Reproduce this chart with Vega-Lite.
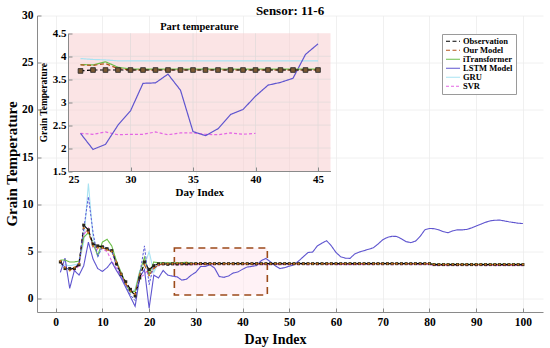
{
  "$schema": "https://vega.github.io/schema/vega-lite/v6.json",
  "width": 506,
  "height": 296.5,
  "autosize": "none",
  "padding": {"left": 37, "top": 15.5, "right": 7, "bottom": 36},
  "title": {"text": "Sensor: 11-6", "fontSize": 13, "fontWeight": "bold", "font": "Liberation Serif", "offset": -8, "anchor": "middle", "color": "#000"},
  "datasets": {
    "main": [
      {"d":1,"Observation":3.9,"Our Model":4.0,"iTransformer":4.1,"LSTM Model":2.8,"GRU":3.5,"SVR":3.8,"Extra":3.9},
      {"d":2,"Observation":3.2,"Our Model":3.3,"iTransformer":4.1,"LSTM Model":4.3,"GRU":3.6,"SVR":3.4,"Extra":3.3},
      {"d":3,"Observation":3.2,"Our Model":3.0,"iTransformer":3.9,"LSTM Model":1.1,"GRU":3.5,"SVR":3.3,"Extra":3.1},
      {"d":4,"Observation":3.2,"Our Model":3.3,"iTransformer":3.9,"LSTM Model":3.0,"GRU":3.6,"SVR":3.0,"Extra":3.3},
      {"d":5,"Observation":3.6,"Our Model":3.7,"iTransformer":4.0,"LSTM Model":2.5,"GRU":3.7,"SVR":3.5,"Extra":3.8},
      {"d":6,"Observation":7.8,"Our Model":7.5,"iTransformer":6.5,"LSTM Model":3.5,"GRU":6.0,"SVR":6.8,"Extra":7.4},
      {"d":7,"Observation":7.3,"Our Model":7.0,"iTransformer":7.0,"LSTM Model":6.0,"GRU":12.2,"SVR":7.5,"Extra":10.8},
      {"d":8,"Observation":5.8,"Our Model":5.6,"iTransformer":5.8,"LSTM Model":4.2,"GRU":6.5,"SVR":5.4,"Extra":7.0},
      {"d":9,"Observation":5.6,"Our Model":5.4,"iTransformer":4.6,"LSTM Model":3.2,"GRU":4.5,"SVR":5.2,"Extra":4.4},
      {"d":10,"Observation":5.5,"Our Model":5.4,"iTransformer":6.0,"LSTM Model":2.9,"GRU":5.5,"SVR":5.3,"Extra":5.6},
      {"d":11,"Observation":5.3,"Our Model":5.2,"iTransformer":6.3,"LSTM Model":3.3,"GRU":5.3,"SVR":5.0,"Extra":5.4},
      {"d":12,"Observation":5.1,"Our Model":5.0,"iTransformer":5.6,"LSTM Model":3.9,"GRU":5.2,"SVR":4.0,"Extra":5.0},
      {"d":13,"Observation":3.7,"Our Model":3.9,"iTransformer":4.0,"LSTM Model":3.0,"GRU":4.0,"SVR":3.2,"Extra":3.5},
      {"d":14,"Observation":2.6,"Our Model":2.6,"iTransformer":2.8,"LSTM Model":2.2,"GRU":2.5,"SVR":2.3,"Extra":2.4},
      {"d":15,"Observation":1.8,"Our Model":1.6,"iTransformer":1.6,"LSTM Model":1.2,"GRU":1.6,"SVR":1.5,"Extra":1.4},
      {"d":16,"Observation":1.0,"Our Model":0.8,"iTransformer":0.7,"LSTM Model":0.2,"GRU":0.6,"SVR":0.8,"Extra":0.4},
      {"d":17,"Observation":0.3,"Our Model":0.5,"iTransformer":0.8,"LSTM Model":-0.8,"GRU":1.0,"SVR":0.8,"Extra":-0.2},
      {"d":18,"Observation":2.2,"Our Model":2.6,"iTransformer":2.8,"LSTM Model":2.3,"GRU":3.0,"SVR":2.2,"Extra":2.6},
      {"d":19,"Observation":3.9,"Our Model":3.6,"iTransformer":4.4,"LSTM Model":3.1,"GRU":3.5,"SVR":2.6,"Extra":5.6},
      {"d":20,"Observation":3.1,"Our Model":2.5,"iTransformer":2.6,"LSTM Model":-1.0,"GRU":5.0,"SVR":3.2,"Extra":1.5},
      {"d":21,"Observation":3.5,"Our Model":3.2,"iTransformer":3.9,"LSTM Model":2.5,"GRU":2.8,"SVR":3.3,"Extra":3.6},
      {"d":22,"Observation":3.7,"Our Model":3.6,"iTransformer":3.8,"LSTM Model":2.2,"GRU":3.8,"SVR":3.5,"Extra":3.7},
      {"d":23,"Observation":3.7,"Our Model":3.7,"iTransformer":3.8,"LSTM Model":3.0,"GRU":3.8,"SVR":3.6},
      {"d":24,"Observation":3.65,"Our Model":3.7,"iTransformer":3.8,"LSTM Model":2.5,"GRU":3.8,"SVR":3.65},
      {"d":25,"Observation":3.7,"Our Model":3.72,"iTransformer":3.8,"LSTM Model":2.4,"GRU":3.8,"SVR":3.6},
      {"d":26,"Observation":3.68,"Our Model":3.75,"iTransformer":3.82,"LSTM Model":2.32,"GRU":3.8,"SVR":3.62},
      {"d":27,"Observation":3.7,"Our Model":3.74,"iTransformer":3.81,"LSTM Model":1.97,"GRU":3.78,"SVR":3.66},
      {"d":28,"Observation":3.7,"Our Model":3.76,"iTransformer":3.88,"LSTM Model":2.08,"GRU":3.78,"SVR":3.58},
      {"d":29,"Observation":3.7,"Our Model":3.72,"iTransformer":3.76,"LSTM Model":2.5,"GRU":3.76,"SVR":3.64},
      {"d":30,"Observation":3.72,"Our Model":3.72,"iTransformer":3.74,"LSTM Model":2.81,"GRU":3.76,"SVR":3.6},
      {"d":31,"Observation":3.72,"Our Model":3.72,"iTransformer":3.74,"LSTM Model":3.41,"GRU":3.76,"SVR":3.66},
      {"d":32,"Observation":3.72,"Our Model":3.72,"iTransformer":3.74,"LSTM Model":3.42,"GRU":3.76,"SVR":3.6},
      {"d":33,"Observation":3.72,"Our Model":3.72,"iTransformer":3.74,"LSTM Model":3.61,"GRU":3.76,"SVR":3.66},
      {"d":34,"Observation":3.72,"Our Model":3.72,"iTransformer":3.74,"LSTM Model":3.26,"GRU":3.76,"SVR":3.6},
      {"d":35,"Observation":3.72,"Our Model":3.72,"iTransformer":3.74,"LSTM Model":2.36,"GRU":3.76,"SVR":3.66},
      {"d":36,"Observation":3.72,"Our Model":3.72,"iTransformer":3.74,"LSTM Model":2.27,"GRU":3.76,"SVR":3.6},
      {"d":37,"Observation":3.72,"Our Model":3.72,"iTransformer":3.74,"LSTM Model":2.42,"GRU":3.76,"SVR":3.66},
      {"d":38,"Observation":3.72,"Our Model":3.72,"iTransformer":3.74,"LSTM Model":2.73,"GRU":3.76,"SVR":3.6},
      {"d":39,"Observation":3.72,"Our Model":3.72,"iTransformer":3.74,"LSTM Model":2.84,"GRU":3.76,"SVR":3.66},
      {"d":40,"Observation":3.72,"Our Model":3.72,"iTransformer":3.74,"LSTM Model":3.13,"GRU":3.76,"SVR":3.6},
      {"d":41,"Observation":3.72,"Our Model":3.72,"iTransformer":3.74,"LSTM Model":3.37,"GRU":3.76,"SVR":3.66},
      {"d":42,"Observation":3.72,"Our Model":3.72,"iTransformer":3.74,"LSTM Model":3.43,"GRU":3.76,"SVR":3.6},
      {"d":43,"Observation":3.72,"Our Model":3.72,"iTransformer":3.74,"LSTM Model":3.52,"GRU":3.76,"SVR":3.66},
      {"d":44,"Observation":3.72,"Our Model":3.72,"iTransformer":3.74,"LSTM Model":4.04,"GRU":3.76,"SVR":3.6},
      {"d":45,"Observation":3.72,"Our Model":3.72,"iTransformer":3.74,"LSTM Model":4.27,"GRU":3.76,"SVR":3.66},
      {"d":46,"Observation":3.72,"Our Model":3.72,"iTransformer":3.74,"LSTM Model":3.9,"GRU":3.76,"SVR":3.6},
      {"d":47,"Observation":3.72,"Our Model":3.72,"iTransformer":3.74,"LSTM Model":3.5,"GRU":3.76,"SVR":3.66},
      {"d":48,"Observation":3.72,"Our Model":3.72,"iTransformer":3.74,"LSTM Model":3.2,"GRU":3.76,"SVR":3.6},
      {"d":49,"Observation":3.72,"Our Model":3.72,"iTransformer":3.74,"LSTM Model":3.3,"GRU":3.76,"SVR":3.66},
      {"d":50,"Observation":3.72,"Our Model":3.72,"iTransformer":3.74,"LSTM Model":3.45,"GRU":3.76,"SVR":3.6},
      {"d":51,"Observation":3.72,"Our Model":3.72,"iTransformer":3.74,"LSTM Model":3.6,"GRU":3.76,"SVR":3.66},
      {"d":52,"Observation":3.72,"Our Model":3.72,"iTransformer":3.74,"LSTM Model":4.0,"GRU":3.76,"SVR":3.6},
      {"d":53,"Observation":3.72,"Our Model":3.72,"iTransformer":3.74,"LSTM Model":4.45,"GRU":3.76,"SVR":3.66},
      {"d":54,"Observation":3.72,"Our Model":3.72,"iTransformer":3.74,"LSTM Model":4.9,"GRU":3.76,"SVR":3.6},
      {"d":55,"Observation":3.72,"Our Model":3.72,"iTransformer":3.74,"LSTM Model":4.95,"GRU":3.76,"SVR":3.66},
      {"d":56,"Observation":3.72,"Our Model":3.72,"iTransformer":3.74,"LSTM Model":5.6,"GRU":3.76,"SVR":3.6},
      {"d":57,"Observation":3.72,"Our Model":3.72,"iTransformer":3.74,"LSTM Model":5.9,"GRU":3.76,"SVR":3.66},
      {"d":58,"Observation":3.72,"Our Model":3.72,"iTransformer":3.74,"LSTM Model":6.15,"GRU":3.76,"SVR":3.6},
      {"d":59,"Observation":3.72,"Our Model":3.72,"iTransformer":3.74,"LSTM Model":5.6,"GRU":3.76,"SVR":3.66},
      {"d":60,"Observation":3.72,"Our Model":3.72,"iTransformer":3.74,"LSTM Model":4.9,"GRU":3.76,"SVR":3.6},
      {"d":61,"Observation":3.72,"Our Model":3.72,"iTransformer":3.74,"LSTM Model":4.45,"GRU":3.76,"SVR":3.66},
      {"d":62,"Observation":3.72,"Our Model":3.72,"iTransformer":3.74,"LSTM Model":4.3,"GRU":3.76,"SVR":3.6},
      {"d":63,"Observation":3.72,"Our Model":3.72,"iTransformer":3.74,"LSTM Model":4.28,"GRU":3.76,"SVR":3.66},
      {"d":64,"Observation":3.72,"Our Model":3.72,"iTransformer":3.74,"LSTM Model":4.75,"GRU":3.76,"SVR":3.6},
      {"d":65,"Observation":3.72,"Our Model":3.72,"iTransformer":3.74,"LSTM Model":4.95,"GRU":3.76,"SVR":3.66},
      {"d":66,"Observation":3.72,"Our Model":3.72,"iTransformer":3.74,"LSTM Model":5.1,"GRU":3.76,"SVR":3.6},
      {"d":67,"Observation":3.72,"Our Model":3.72,"iTransformer":3.74,"LSTM Model":5.25,"GRU":3.76,"SVR":3.66},
      {"d":68,"Observation":3.72,"Our Model":3.72,"iTransformer":3.74,"LSTM Model":5.4,"GRU":3.76,"SVR":3.6},
      {"d":69,"Observation":3.72,"Our Model":3.72,"iTransformer":3.74,"LSTM Model":5.8,"GRU":3.76,"SVR":3.66},
      {"d":70,"Observation":3.72,"Our Model":3.72,"iTransformer":3.74,"LSTM Model":6.25,"GRU":3.76,"SVR":3.6},
      {"d":71,"Observation":3.72,"Our Model":3.72,"iTransformer":3.74,"LSTM Model":6.5,"GRU":3.76,"SVR":3.66},
      {"d":72,"Observation":3.72,"Our Model":3.72,"iTransformer":3.74,"LSTM Model":6.62,"GRU":3.76,"SVR":3.6},
      {"d":73,"Observation":3.72,"Our Model":3.72,"iTransformer":3.74,"LSTM Model":6.6,"GRU":3.76,"SVR":3.66},
      {"d":74,"Observation":3.72,"Our Model":3.72,"iTransformer":3.74,"LSTM Model":6.35,"GRU":3.76,"SVR":3.6},
      {"d":75,"Observation":3.72,"Our Model":3.72,"iTransformer":3.74,"LSTM Model":6.05,"GRU":3.76,"SVR":3.66},
      {"d":76,"Observation":3.72,"Our Model":3.72,"iTransformer":3.74,"LSTM Model":5.95,"GRU":3.76,"SVR":3.6},
      {"d":77,"Observation":3.72,"Our Model":3.72,"iTransformer":3.74,"LSTM Model":6.1,"GRU":3.76,"SVR":3.66},
      {"d":78,"Observation":3.72,"Our Model":3.72,"iTransformer":3.74,"LSTM Model":6.6,"GRU":3.76,"SVR":3.6},
      {"d":79,"Observation":3.72,"Our Model":3.72,"iTransformer":3.74,"LSTM Model":7.3,"GRU":3.76,"SVR":3.66},
      {"d":80,"Observation":3.72,"Our Model":3.72,"iTransformer":3.74,"LSTM Model":7.45,"GRU":3.76,"SVR":3.6},
      {"d":81,"Observation":3.62,"Our Model":3.62,"iTransformer":3.64,"LSTM Model":7.42,"GRU":3.66,"SVR":3.56},
      {"d":82,"Observation":3.62,"Our Model":3.62,"iTransformer":3.64,"LSTM Model":7.3,"GRU":3.66,"SVR":3.5},
      {"d":83,"Observation":3.62,"Our Model":3.62,"iTransformer":3.64,"LSTM Model":7.1,"GRU":3.66,"SVR":3.56},
      {"d":84,"Observation":3.62,"Our Model":3.62,"iTransformer":3.64,"LSTM Model":7.0,"GRU":3.66,"SVR":3.5},
      {"d":85,"Observation":3.62,"Our Model":3.62,"iTransformer":3.64,"LSTM Model":7.2,"GRU":3.66,"SVR":3.56},
      {"d":86,"Observation":3.62,"Our Model":3.62,"iTransformer":3.64,"LSTM Model":7.3,"GRU":3.66,"SVR":3.5},
      {"d":87,"Observation":3.62,"Our Model":3.62,"iTransformer":3.64,"LSTM Model":7.3,"GRU":3.66,"SVR":3.56},
      {"d":88,"Observation":3.62,"Our Model":3.62,"iTransformer":3.64,"LSTM Model":7.35,"GRU":3.66,"SVR":3.5},
      {"d":89,"Observation":3.62,"Our Model":3.62,"iTransformer":3.64,"LSTM Model":7.5,"GRU":3.66,"SVR":3.56},
      {"d":90,"Observation":3.62,"Our Model":3.62,"iTransformer":3.64,"LSTM Model":7.7,"GRU":3.66,"SVR":3.5},
      {"d":91,"Observation":3.62,"Our Model":3.62,"iTransformer":3.64,"LSTM Model":7.9,"GRU":3.66,"SVR":3.56},
      {"d":92,"Observation":3.62,"Our Model":3.62,"iTransformer":3.64,"LSTM Model":8.1,"GRU":3.66,"SVR":3.5},
      {"d":93,"Observation":3.62,"Our Model":3.62,"iTransformer":3.64,"LSTM Model":8.25,"GRU":3.66,"SVR":3.56},
      {"d":94,"Observation":3.62,"Our Model":3.62,"iTransformer":3.64,"LSTM Model":8.32,"GRU":3.66,"SVR":3.5},
      {"d":95,"Observation":3.62,"Our Model":3.62,"iTransformer":3.64,"LSTM Model":8.33,"GRU":3.66,"SVR":3.56},
      {"d":96,"Observation":3.62,"Our Model":3.62,"iTransformer":3.64,"LSTM Model":8.25,"GRU":3.66,"SVR":3.5},
      {"d":97,"Observation":3.62,"Our Model":3.62,"iTransformer":3.64,"LSTM Model":8.15,"GRU":3.66,"SVR":3.56},
      {"d":98,"Observation":3.62,"Our Model":3.62,"iTransformer":3.64,"LSTM Model":8.08,"GRU":3.66,"SVR":3.5},
      {"d":99,"Observation":3.62,"Our Model":3.62,"iTransformer":3.64,"LSTM Model":8.0,"GRU":3.66,"SVR":3.56},
      {"d":100,"Observation":3.62,"Our Model":3.62,"iTransformer":3.64,"LSTM Model":7.97,"GRU":3.66,"SVR":3.5}
    ],
    "inset": [
      {"d":26,"Observation":3.68,"Our Model":3.81,"iTransformer":3.82,"LSTM Model":2.32,"GRU":3.95,"SVR":2.32},
      {"d":27,"Observation":3.7,"Our Model":3.8,"iTransformer":3.81,"LSTM Model":1.97,"GRU":3.93,"SVR":2.3},
      {"d":28,"Observation":3.7,"Our Model":3.84,"iTransformer":3.88,"LSTM Model":2.08,"GRU":3.92,"SVR":2.35},
      {"d":29,"Observation":3.7,"Our Model":3.73,"iTransformer":3.76,"LSTM Model":2.5,"GRU":3.9,"SVR":2.29},
      {"d":30,"Observation":3.7,"Our Model":3.7,"iTransformer":3.72,"LSTM Model":2.81,"GRU":3.9,"SVR":2.3},
      {"d":31,"Observation":3.7,"Our Model":3.7,"iTransformer":3.72,"LSTM Model":3.41,"GRU":3.9,"SVR":2.3},
      {"d":32,"Observation":3.7,"Our Model":3.7,"iTransformer":3.72,"LSTM Model":3.42,"GRU":3.9,"SVR":2.35},
      {"d":33,"Observation":3.7,"Our Model":3.7,"iTransformer":3.72,"LSTM Model":3.61,"GRU":3.9,"SVR":2.29},
      {"d":34,"Observation":3.7,"Our Model":3.7,"iTransformer":3.72,"LSTM Model":3.26,"GRU":3.9,"SVR":2.33},
      {"d":35,"Observation":3.7,"Our Model":3.7,"iTransformer":3.72,"LSTM Model":2.36,"GRU":3.9,"SVR":2.33},
      {"d":36,"Observation":3.7,"Our Model":3.7,"iTransformer":3.72,"LSTM Model":2.27,"GRU":3.9,"SVR":2.3},
      {"d":37,"Observation":3.7,"Our Model":3.7,"iTransformer":3.72,"LSTM Model":2.42,"GRU":3.9,"SVR":2.29},
      {"d":38,"Observation":3.7,"Our Model":3.7,"iTransformer":3.72,"LSTM Model":2.73,"GRU":3.9,"SVR":2.33},
      {"d":39,"Observation":3.7,"Our Model":3.7,"iTransformer":3.72,"LSTM Model":2.84,"GRU":3.9,"SVR":2.3},
      {"d":40,"Observation":3.7,"Our Model":3.7,"iTransformer":3.72,"LSTM Model":3.13,"GRU":3.9,"SVR":2.32},
      {"d":41,"Observation":3.7,"Our Model":3.7,"iTransformer":3.72,"LSTM Model":3.37,"GRU":3.9},
      {"d":42,"Observation":3.7,"Our Model":3.7,"iTransformer":3.72,"LSTM Model":3.43,"GRU":3.9},
      {"d":43,"Observation":3.7,"Our Model":3.7,"iTransformer":3.72,"LSTM Model":3.52,"GRU":3.9},
      {"d":44,"Observation":3.7,"Our Model":3.7,"iTransformer":3.72,"LSTM Model":4.04,"GRU":3.9},
      {"d":45,"Observation":3.7,"Our Model":3.7,"iTransformer":3.72,"LSTM Model":4.27,"GRU":3.9}
    ]
  },
  "layer": [
    {
      "layer": [
        {
          "data": {"values": [{"x1": 25.4, "x2": 45.3, "y1": 0.4, "y2": 5.37}]},
          "mark": {"type": "rect", "fill": "#ffe6ee", "fillOpacity": 0.5, "stroke": "#9c4a1a", "strokeWidth": 1.6, "strokeDash": [7, 5]},
          "encoding": {
            "x": {"field": "x1", "type": "quantitative", "scale": {"domain": [-4, 104.3], "nice": false, "zero": false},
              "axis": {"values": [0,10,20,30,40,50,60,70,80,90,100], "title": "Day Index", "titleX": 238, "titleY": 27, "titleBaseline": "middle", "titleFontSize": 14, "labelPadding": 8}},
            "x2": {"field": "x2"},
            "y": {"field": "y1", "type": "quantitative", "scale": {"domain": [-1.4, 30], "nice": false, "zero": false},
              "axis": {"values": [0,5,10,15,20,25,30], "title": "Grain Temperature", "titleX": -26, "titleY": 148, "titleAngle": 270, "titleAlign": "center", "titleBaseline": "middle", "titleFontSize": 15, "labelPadding": 8}},
            "y2": {"field": "y2"}
          }
        },
        {
          "data": {"name": "main"},
          "transform": [{"fold": ["GRU", "SVR", "LSTM Model", "iTransformer", "Our Model", "Observation"], "as": ["model", "value"]}],
          "mark": {"type": "line", "strokeWidth": 1.1},
          "encoding": {
            "x": {"field": "d", "type": "quantitative"},
            "y": {"field": "value", "type": "quantitative"},
            "color": {"field": "model", "type": "nominal",
              "scale": {"domain": ["Observation", "Our Model", "iTransformer", "LSTM Model", "GRU", "SVR"], "range": ["#000000", "#b5561d", "#6cbf4a", "#5f55cf", "#a9e3f2", "#e467e4"]},
              "legend": {"title": null}},
            "strokeDash": {"field": "model", "type": "nominal",
              "scale": {"domain": ["Observation", "Our Model", "iTransformer", "LSTM Model", "GRU", "SVR"], "range": [[4, 2.5], [4, 2.5], [1, 0], [1, 0], [1, 0], [3, 2]]},
              "legend": {"title": null}}
          }
        },
        {
          "data": {"name": "main"},
          "mark": {"type": "line", "color": "#5a5ad8", "strokeWidth": 1, "strokeDash": [2.5, 1.5]},
          "encoding": {
            "x": {"field": "d", "type": "quantitative"},
            "y": {"field": "Extra", "type": "quantitative"}
          }
        },
        {
          "data": {"name": "main"},
          "mark": {"type": "point", "shape": "square", "filled": true, "color": "#2a2418", "size": 9, "opacity": 1},
          "encoding": {
            "x": {"field": "d", "type": "quantitative"},
            "y": {"field": "Observation", "type": "quantitative"}
          }
        },
        {
          "data": {"name": "main"},
          "mark": {"type": "point", "shape": "circle", "filled": true, "color": "#c8741e", "size": 4, "opacity": 1},
          "encoding": {
            "x": {"field": "d", "type": "quantitative"},
            "y": {"field": "Our Model", "type": "quantitative"}
          }
        }
      ]
    },
    {
      "layer": [
        {
          "data": {"values": [{"x1": 25, "x2": 46, "y1": 1.5, "y2": 4.5}]},
          "mark": {"type": "rect", "fill": "#f7c9cc", "fillOpacity": 0.5},
          "encoding": {
            "x": {"field": "x1", "type": "quantitative", "scale": {"domain": [25, 46], "range": [31, 293.5], "nice": false, "zero": false},
              "axis": {"orient": "bottom", "offset": -141, "values": [25, 30, 35, 40, 45], "grid": false, "title": "Day Index", "titleFontSize": 11, "titlePadding": 2, "labelFontSize": 11, "labelPadding": 6, "zindex": 2}},
            "x2": {"field": "x2"},
            "y": {"field": "y1", "type": "quantitative", "scale": {"domain": [1.5, 4.5], "range": [155.5, 17.8], "nice": false, "zero": false},
              "axis": {"orient": "left", "offset": -31, "values": [1.5, 2, 2.5, 3, 3.5, 4, 4.5], "format": ".2~f", "grid": false, "title": "Grain Temperature", "titleFontSize": 9.5, "titlePadding": 4, "labelFontSize": 11, "labelPadding": 6, "zindex": 2}},
            "y2": {"field": "y2"}
          }
        },
        {
          "data": {"values": [{"g": 30}, {"g": 35}, {"g": 40}, {"g": 45}]},
          "mark": {"type": "rule", "color": "#e2dada", "strokeWidth": 0.8},
          "encoding": {
            "x": {"field": "g", "type": "quantitative"},
            "y": {"datum": 1.5},
            "y2": {"datum": 4.5}
          }
        },
        {
          "data": {"values": [{"g": 2}, {"g": 2.5}, {"g": 3}, {"g": 3.5}, {"g": 4}]},
          "mark": {"type": "rule", "color": "#e2dada", "strokeWidth": 0.8},
          "encoding": {
            "y": {"field": "g", "type": "quantitative"},
            "x": {"datum": 25},
            "x2": {"datum": 46}
          }
        },
        {
          "data": {"name": "inset"},
          "transform": [{"fold": ["GRU", "SVR", "LSTM Model", "iTransformer", "Our Model", "Observation"], "as": ["model", "value"]}],
          "mark": {"type": "line", "strokeWidth": 1.2},
          "encoding": {
            "x": {"field": "d", "type": "quantitative"},
            "y": {"field": "value", "type": "quantitative"},
            "color": {"field": "model", "type": "nominal"},
            "strokeDash": {"field": "model", "type": "nominal"}
          }
        },
        {
          "data": {"name": "inset"},
          "mark": {"type": "point", "shape": "square", "filled": true, "fill": "#7a5a34", "stroke": "#222222", "strokeWidth": 0.8, "size": 22, "opacity": 1},
          "encoding": {
            "x": {"field": "d", "type": "quantitative"},
            "y": {"field": "Observation", "type": "quantitative"}
          }
        },
        {
          "data": {"values": [{"x": 35.5, "y": 4.5, "t": "Part temperature"}]},
          "mark": {"type": "text", "fontSize": 10.5, "fontWeight": "bold", "font": "Liberation Serif", "baseline": "alphabetic", "dy": -3, "color": "#000"},
          "encoding": {
            "x": {"field": "x", "type": "quantitative"},
            "y": {"field": "y", "type": "quantitative"},
            "text": {"field": "t"}
          }
        }
      ]
    }
  ],
  "resolve": {"scale": {"x": "independent", "y": "independent"}, "axis": {"x": "independent", "y": "independent"}},
  "config": {
    "view": {"stroke": null},
    "font": "Liberation Serif",
    "axis": {
      "labelFont": "Liberation Serif", "labelFontWeight": "bold", "labelFontSize": 11.5, "labelColor": "#000",
      "titleFont": "Liberation Serif", "titleFontWeight": "bold", "titleColor": "#000",
      "domainColor": "#8a8a8a", "tickColor": "#8a8a8a", "tickSize": -4,
      "gridColor": "#ececec", "gridWidth": 0.8
    },
    "legend": {
      "orient": "none", "legendX": 405, "legendY": 18.5,
      "strokeColor": "#9a9a9a", "fillColor": "#ffffff", "padding": 3,
      "labelFont": "Liberation Serif", "labelFontWeight": "bold", "labelFontSize": 8.5, "labelColor": "#000",
      "symbolType": "stroke", "symbolSize": 196, "symbolStrokeWidth": 1.2, "rowPadding": 0, "clipHeight": 8.5, "labelOffset": 2
    }
  }
}
